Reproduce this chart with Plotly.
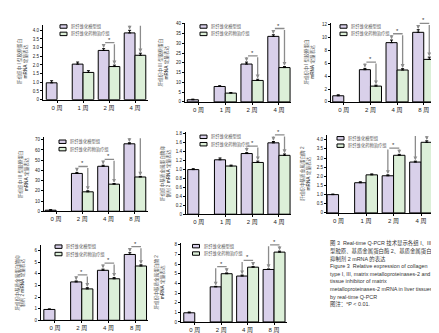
import plotly.graph_objects as go

W, H = 439, 333

# ---------------- data ----------------
series_names = ["肝纤维化模型组", "肝纤维化药物治疗组"]
weeks_early = ["0 周", "1 周", "2 周", "4 周"]
weeks_late = ["0 周", "2 周", "4 周", "8 周"]

# Panel A: collagen I (0-4 weeks)
a_model = [0.97, 2.05, 2.84, 3.85]
a_model_err = [0.12, 0.12, 0.10, 0.15]
a_treat = [None, 1.57, 1.91, 2.56]
a_treat_err = [0, 0.10, 0.08, 0.12]
a_sig = [False, False, True, True]

# Panel B: collagen III (0-4 weeks)
b_model = [1.1, 7.9, 19.4, 33.6]
b_model_err = [0.3, 0.4, 1.0, 0.8]
b_treat = [None, 4.5, 11.0, 17.6]
b_treat_err = [0, 0.3, 0.6, 0.5]
b_sig = [False, False, True, True]

# Panel C: collagen I (0-8 weeks)
c_model = [0.95, 5.0, 9.2, 10.8]
c_model_err = [0.15, 0.2, 0.4, 0.4]
c_treat = [None, 2.45, 4.95, 6.6]
c_treat_err = [0, 0.15, 0.2, 0.35]
c_sig = [False, True, True, True]

# Panel D: collagen III (0-8 weeks)
d_model = [1.0, 37.0, 44.0, 66.0]
d_model_err = [0.5, 1.0, 1.0, 1.0]
d_treat = [None, 19.0, 26.5, 33.5]
d_treat_err = [0, 1.0, 0.6, 0.6]
d_sig = [False, True, True, True]

# Panel E: TIMP-2 (0-4 weeks)
e_model = [1.0, 1.22, 1.36, 1.60]
e_model_err = [0.02, 0.04, 0.02, 0.03]
e_treat = [None, 1.08, 1.16, 1.32]
e_treat_err = [0, 0.02, 0.03, 0.03]
e_sig = [False, False, True, True]

# Panel F: MMP-2 (0-4 weeks)
f_model = [1.0, 1.65, 2.03, 2.78]
f_model_err = [0.03, 0.05, 0.05, 0.05]
f_treat = [None, 2.08, 3.15, 3.86]
f_treat_err = [0, 0.05, 0.05, 0.08]
f_sig = [False, False, True, True]

# Panel G: TIMP-2 (0-8 weeks)
g_model = [0.93, 3.3, 4.3, 5.66]
g_model_err = [0.05, 0.08, 0.10, 0.15]
g_treat = [None, 2.7, 3.57, 4.67]
g_treat_err = [0, 0.10, 0.10, 0.10]
g_sig = [False, True, True, True]

# Panel H: MMP-2 (0-8 weeks)
h_model = [0.95, 3.64, 4.76, 5.44]
h_model_err = [0.08, 0.05, 0.10, 0.05]
h_treat = [None, 5.0, 5.68, 7.24]
h_treat_err = [0, 0.08, 0.05, 0.10]
h_sig = [False, True, True, True]

title_col1 = ["肝组织中 I 型胶原蛋白", "<b>mRNA</b> 定量表达"]
title_col3 = ["肝组织中 III 型胶原蛋白", "<b>mRNA</b> 定量表达"]
title_timp = ["肝组织中基质金属蛋白酶抑", "制剂 2 <b>mRNA</b> 定量表达"]
title_mmp = ["肝组织中基质金属蛋白酶 2", "<b>mRNA</b> 定量表达"]

caption_lines = [
    "图 3  Real-time Q-PCR 技术显示各组 I、III",
    "型胶原、基质金属蛋白酶 2、基质金属蛋白酶",
    "抑制剂 2 mRNA 的表达",
    "Figure 3  Relative expression of collagen",
    "type I, III, matrix metalloproteinases-2 and",
    "tissue inhibitor of matrix",
    "metalloproteinases-2 mRNA in liver tissues",
    "by real-time Q-PCR",
    "图注：<sup>a</sup>P < 0.01.",
]

# ---------------- layout geometry (pixels) ----------------
panels = [
    dict(cats=weeks_early, m=a_model, me=a_model_err, t=a_treat, te=a_treat_err, sig=a_sig, title=title_col1,
         px=(35, 140, 15, 91), ymax=4.32, dtick=0.5, dec=1, xr=(-0.54, 3.5), leg=(52, 15)),
    dict(cats=weeks_early, m=b_model, me=b_model_err, t=b_treat, te=b_treat_err, sig=b_sig, title=title_col3,
         px=(177, 283, 13.5, 93.3), ymax=40.3, dtick=5, dec=0, xr=(-0.5, 3.45), leg=(192, 15)),
    dict(cats=weeks_late, m=c_model, me=c_model_err, t=c_treat, te=c_treat_err, sig=c_sig, title=title_col1,
         px=(323, 428, 13.5, 93.3), ymax=12.2, dtick=2, dec=0, xr=(-0.48, 3.46), leg=(332, 15)),
    dict(cats=weeks_late, m=d_model, me=d_model_err, t=d_treat, te=d_treat_err, sig=d_sig, title=title_col3,
         px=(36, 140, 129.3, 204.3), ymax=72.3, dtick=10, dec=0, xr=(-0.46, 3.5), leg=(51, 132)),
    dict(cats=weeks_early, m=e_model, me=e_model_err, t=e_treat, te=e_treat_err, sig=e_sig, title=title_timp,
         px=(178, 283, 124, 207.3), ymax=1.84, dtick=0.2, dec=1, xr=(-0.48, 3.45), leg=(192, 127)),
    dict(cats=weeks_early, m=f_model, me=f_model_err, t=f_treat, te=f_treat_err, sig=f_sig, title=title_mmp,
         px=(319, 426, 126.7, 206), ymax=4.27, dtick=0.5, dec=1, xr=(-0.42, 3.47), leg=(329, 128.5)),
    dict(cats=weeks_late, m=g_model, me=g_model_err, t=g_treat, te=g_treat_err, sig=g_sig, title=title_timp,
         px=(33, 140, 238.3, 315), ymax=6.5, dtick=1, dec=0, xr=(-0.52, 3.47), leg=(47, 238.5)),
    dict(cats=weeks_late, m=h_model, me=h_model_err, t=h_treat, te=h_treat_err, sig=h_sig, title=title_mmp,
         px=(173, 279, 236.7, 316.7), ymax=8.17, dtick=1, dec=0, xr=(-0.52, 3.49), leg=(184.5, 238)),
]

C_MODEL = "#d9d0ea"
C_TREAT = "#dcefd8"
C_BRACKET = "#8c8c8c"
FONT = "Liberation Sans, Noto Sans CJK SC, sans-serif"
BARGAP = 0.17


def fx(px):
    return px / W


def fy(py):
    return 1 - py / H


fig = go.Figure()
annotations = []
shapes = []
layout = {}

for k, p in enumerate(panels, start=1):
    sx = "" if k == 1 else str(k)
    xa, ya = "x" + sx, "y" + sx
    x0, x1, y0, y1 = p["px"]
    for vals, errs, color, name in ((p["m"], p["me"], C_MODEL, series_names[0]),
                                     (p["t"], p["te"], C_TREAT, series_names[1])):
        fig.add_trace(go.Bar(
            x=p["cats"], y=vals, name=name, xaxis=xa, yaxis=ya, showlegend=False,
            marker=dict(color=color, line=dict(color="black", width=1)),
            error_y=dict(type="data", array=errs, arrayminus=[0] * len(errs), symmetric=False,
                         color="black", thickness=1, width=1.5),
        ))
    ticks = []
    v = 0.0
    while v <= p["ymax"] + 1e-9:
        ticks.append(round(v, 4))
        v += p["dtick"]
    ticktext = ["0" if t == 0 else (f"{t:.{p['dec']}f}") for t in ticks]
    layout["xaxis" + sx] = dict(
        domain=[fx(x0), fx(x1)], anchor=ya, type="category", range=list(p["xr"]),
        showline=True, linecolor="black", linewidth=1, ticks="outside", ticklen=2, tickwidth=1,
        tickcolor="black", tickfont=dict(size=6, color="#222", family=FONT), showgrid=False,
        zeroline=False, fixedrange=True,
    )
    layout["yaxis" + sx] = dict(
        domain=[fy(y1), fy(y0)], anchor=xa, range=[0, p["ymax"]],
        showline=True, linecolor="black", linewidth=1, ticks="outside", ticklen=2, tickwidth=1,
        tickcolor="black", tickvals=ticks, ticktext=ticktext,
        tickfont=dict(size=4.5, color="#222", family=FONT), showgrid=False, zeroline=False,
    )
    annotations.append(dict(
        xref="paper", yref="paper", x=fx(x0 - 21), y=fy((y0 + y1) / 2),
        text=p["title"][0] + "<br>" + p["title"][1], textangle=-90, showarrow=False,
        font=dict(size=4.6, color="#555", family=FONT), xanchor="center", yanchor="middle",
    ))
    lx, ly = p["leg"]
    for j, (color, name) in enumerate(((C_MODEL, series_names[0]), (C_TREAT, series_names[1]))):
        top = ly + j * 7.5
        shapes.append(dict(type="rect", xref="paper", yref="paper",
                           x0=fx(lx), x1=fx(lx + 7), y0=fy(top + 3.5), y1=fy(top),
                           fillcolor=color, line=dict(color="black", width=1)))
        annotations.append(dict(xref="paper", yref="paper", x=fx(lx + 9), y=fy(top + 1.75),
                                text=name, showarrow=False, xanchor="left", yanchor="middle",
                                font=dict(size=4.3, color="#555", family=FONT)))
    w = (1 - BARGAP) / 2
    for i, s in enumerate(p["sig"]):
        if not s:
            continue
        mtop = p["m"][i] + p["me"][i]
        ttop = p["t"][i] + p["te"][i]
        yb = max(mtop, ttop) + 0.08 * p["ymax"]
        xl, xr = i - w / 2, i + w / 2
        gap = 0.01 * p["ymax"]
        for xx, yy in ((xl, mtop + gap), (xr, ttop + gap)):
            annotations.append(dict(xref=xa, yref=ya, axref=xa, ayref=ya, x=xx, y=yy, ax=xx, ay=yb,
                                    text="", showarrow=True, arrowhead=2, arrowsize=0.6,
                                    arrowwidth=1.3, arrowcolor=C_BRACKET))
        annotations.append(dict(xref=xa, yref=ya, axref=xa, ayref=ya, x=xr, y=yb, ax=xl, ay=yb,
                                text="", showarrow=True, arrowhead=0, arrowwidth=1.3,
                                arrowcolor=C_BRACKET))
        annotations.append(dict(xref=xa, yref=ya, x=i, y=yb, text="*", showarrow=False,
                                yanchor="bottom", yshift=-2, font=dict(size=6, color="#333", family=FONT)))

for n, line in enumerate(caption_lines):
    annotations.append(dict(xref="paper", yref="paper", x=fx(320), y=fy(237 + n * 7.7),
                            text=line, showarrow=False, xanchor="left", yanchor="middle",
                            font=dict(size=5.4, color="#333", family=FONT)))

fig.update_layout(
    width=W, height=H, margin=dict(l=0, r=0, t=0, b=0),
    paper_bgcolor="white", plot_bgcolor="white",
    barmode="group", bargap=BARGAP, bargroupgap=0,
    showlegend=False, annotations=annotations, shapes=shapes,
    font=dict(family=FONT), **layout,
)

fig.write_html("out.html")
